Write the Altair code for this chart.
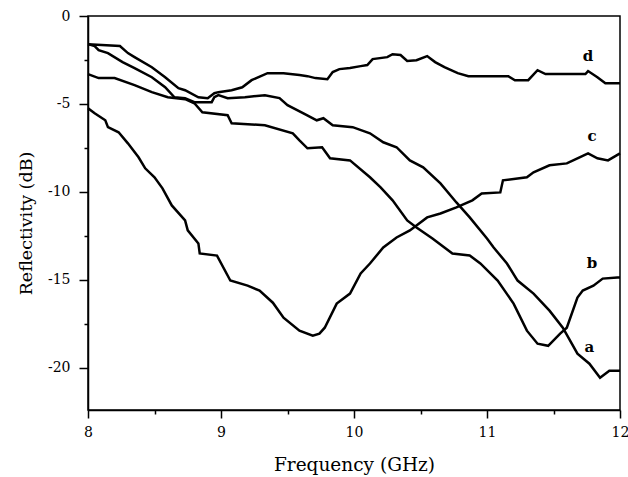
import altair as alt
import pandas as pd

# Curve a
a_x = [8.00, 8.05, 8.08, 8.15, 8.26, 8.35, 8.48, 8.58, 8.65, 8.73, 8.80, 8.93, 8.95, 8.98, 9.05, 9.18, 9.33, 9.44, 9.50, 9.62, 9.72, 9.77, 9.84, 9.99, 10.12, 10.22, 10.32, 10.42, 10.52, 10.65, 10.77, 10.87, 11.00, 11.05, 11.15, 11.23, 11.35, 11.47, 11.57, 11.68, 11.77, 11.85, 11.92, 12.00]
a_y = [-1.60, -1.71, -1.94, -2.11, -2.62, -2.96, -3.48, -4.05, -4.62, -4.67, -4.90, -4.90, -4.62, -4.50, -4.67, -4.62, -4.50, -4.67, -5.07, -5.53, -5.93, -5.81, -6.21, -6.32, -6.67, -7.18, -7.46, -8.21, -8.60, -9.52, -10.60, -11.45, -12.65, -13.16, -14.07, -15.04, -15.78, -16.75, -17.72, -19.20, -19.77, -20.57, -20.17, -20.17]

# Curve b
b_x = [8.00, 8.08, 8.20, 8.35, 8.48, 8.60, 8.73, 8.80, 8.86, 9.05, 9.08, 9.33, 9.54, 9.59, 9.65, 9.76, 9.82, 9.97, 10.12, 10.20, 10.29, 10.40, 10.47, 10.59, 10.74, 10.87, 10.95, 11.08, 11.20, 11.30, 11.38, 11.46, 11.55, 11.60, 11.68, 11.72, 11.80, 11.87, 11.98, 12.00]
b_y = [-3.30, -3.53, -3.53, -3.93, -4.33, -4.62, -4.73, -4.96, -5.47, -5.64, -6.10, -6.21, -6.67, -7.07, -7.52, -7.46, -8.09, -8.21, -9.17, -9.74, -10.48, -11.62, -12.02, -12.65, -13.50, -13.62, -14.07, -15.04, -16.35, -17.89, -18.63, -18.75, -18.06, -17.72, -16.01, -15.61, -15.33, -14.93, -14.87, -14.87]

# Curve c
c_x = [8.00, 8.05, 8.13, 8.15, 8.23, 8.30, 8.38, 8.43, 8.50, 8.56, 8.63, 8.73, 8.75, 8.83, 8.84, 8.97, 9.07, 9.20, 9.29, 9.39, 9.47, 9.59, 9.69, 9.74, 9.78, 9.87, 9.97, 10.05, 10.12, 10.22, 10.32, 10.42, 10.55, 10.65, 10.77, 10.89, 10.96, 11.10, 11.12, 11.30, 11.35, 11.47, 11.60, 11.68, 11.76, 11.83, 11.91, 12.00]
c_y = [-5.24, -5.53, -5.93, -6.32, -6.61, -7.24, -8.03, -8.66, -9.17, -9.80, -10.77, -11.62, -12.19, -12.93, -13.50, -13.62, -15.04, -15.33, -15.61, -16.30, -17.15, -17.89, -18.18, -18.06, -17.72, -16.35, -15.78, -14.64, -14.07, -13.16, -12.59, -12.19, -11.45, -11.23, -10.88, -10.48, -10.09, -10.03, -9.34, -9.17, -8.89, -8.49, -8.38, -8.09, -7.81, -8.09, -8.21, -7.81]

# Curve d
d_x = [8.00, 8.24, 8.30, 8.35, 8.48, 8.58, 8.68, 8.73, 8.83, 8.90, 8.95, 8.98, 9.08, 9.16, 9.23, 9.35, 9.47, 9.59, 9.65, 9.71, 9.80, 9.84, 9.89, 9.97, 10.05, 10.10, 10.14, 10.25, 10.29, 10.35, 10.40, 10.47, 10.55, 10.61, 10.68, 10.78, 10.86, 11.16, 11.21, 11.31, 11.38, 11.44, 11.74, 11.76, 11.83, 11.89, 12.00]
d_y = [-1.60, -1.71, -2.11, -2.34, -2.91, -3.48, -4.10, -4.22, -4.62, -4.67, -4.39, -4.33, -4.22, -4.05, -3.65, -3.25, -3.25, -3.36, -3.42, -3.53, -3.59, -3.19, -3.02, -2.96, -2.85, -2.79, -2.45, -2.34, -2.17, -2.22, -2.56, -2.51, -2.28, -2.62, -2.91, -3.25, -3.42, -3.42, -3.65, -3.65, -3.08, -3.30, -3.30, -3.13, -3.48, -3.82, -3.82]

# Curve labels
label_text = ["d", "c", "b", "a"]
label_x = [11.76, 11.79, 11.79, 11.77]
label_y = [-2.28, -6.84, -14.07, -18.8]

x_ticks = [8, 8.5, 9, 9.5, 10, 10.5, 11, 11.5, 12]
y_ticks = [-20, -17.5, -15, -12.5, -10, -7.5, -5, -2.5, 0]

rows = []
for name, xs, ys in [("a", a_x, a_y), ("b", b_x, b_y), ("c", c_x, c_y), ("d", d_x, d_y)]:
    for i, (xv, yv) in enumerate(zip(xs, ys)):
        rows.append({"series": name, "i": i, "f": xv, "r": yv})
df = pd.DataFrame(rows)
lab = pd.DataFrame({"t": label_text, "f": label_x, "r": label_y})

FONT = "DejaVu Serif"

xscale = alt.Scale(domain=[8, 12], nice=False, zero=False)
yscale = alt.Scale(domain=[-22.4, 0], nice=False, zero=False)

xaxis = alt.Axis(
    values=x_ticks,
    labelExpr="datum.value % 1 === 0 ? toString(datum.value) : ''",
    tickSize={"condition": {"test": "datum.value % 1 === 0", "value": 8}, "value": 4},
    grid=False,
    title="Frequency (GHz)",
    titleFontSize=18.5,
    labelFlush=False,
    labelPadding=7,
    titlePadding=16,
)
yaxis = alt.Axis(
    values=y_ticks,
    labelExpr="datum.value % 5 === 0 ? toString(datum.value) : ''",
    tickSize={"condition": {"test": "datum.value % 5 === 0", "value": 9}, "value": 4},
    grid=False,
    title="Reflectivity (dB)",
    titleFontSize=17.5,
    titleY=207,
    labelFlush=False,
    labelPadding=9,
    titlePadding=12,
)

lines = alt.Chart(df).mark_line(color="black", strokeWidth=2.5, interpolate="linear").encode(
    x=alt.X("f:Q", scale=xscale, axis=xaxis),
    y=alt.Y("r:Q", scale=yscale, axis=yaxis),
    detail="series:N",
    order="i:Q",
)

texts = alt.Chart(lab).mark_text(font=FONT, fontSize=15, fontWeight="bold", color="black").encode(
    x=alt.X("f:Q", scale=xscale),
    y=alt.Y("r:Q", scale=yscale),
    text="t:N",
)

chart = (
    alt.layer(lines, texts)
    .properties(
        width=532,
        height=394,
        autosize=alt.AutoSizeParams(type="none"),
        padding={"left": 88, "top": 16, "right": 8, "bottom": 67},
        background="white",
    )
    .configure_view(stroke="black", strokeWidth=1.5)
    .configure_axis(
        domainColor="black",
        domainWidth=1.5,
        tickColor="black",
        tickWidth=1.5,
        labelFont=FONT,
        labelFontSize=14,
        labelColor="black",
        titleFont=FONT,
        titleFontWeight="normal",
        titleColor="black",
    )
)

chart.save("out.html", embed_options={"renderer": "svg", "actions": False})
